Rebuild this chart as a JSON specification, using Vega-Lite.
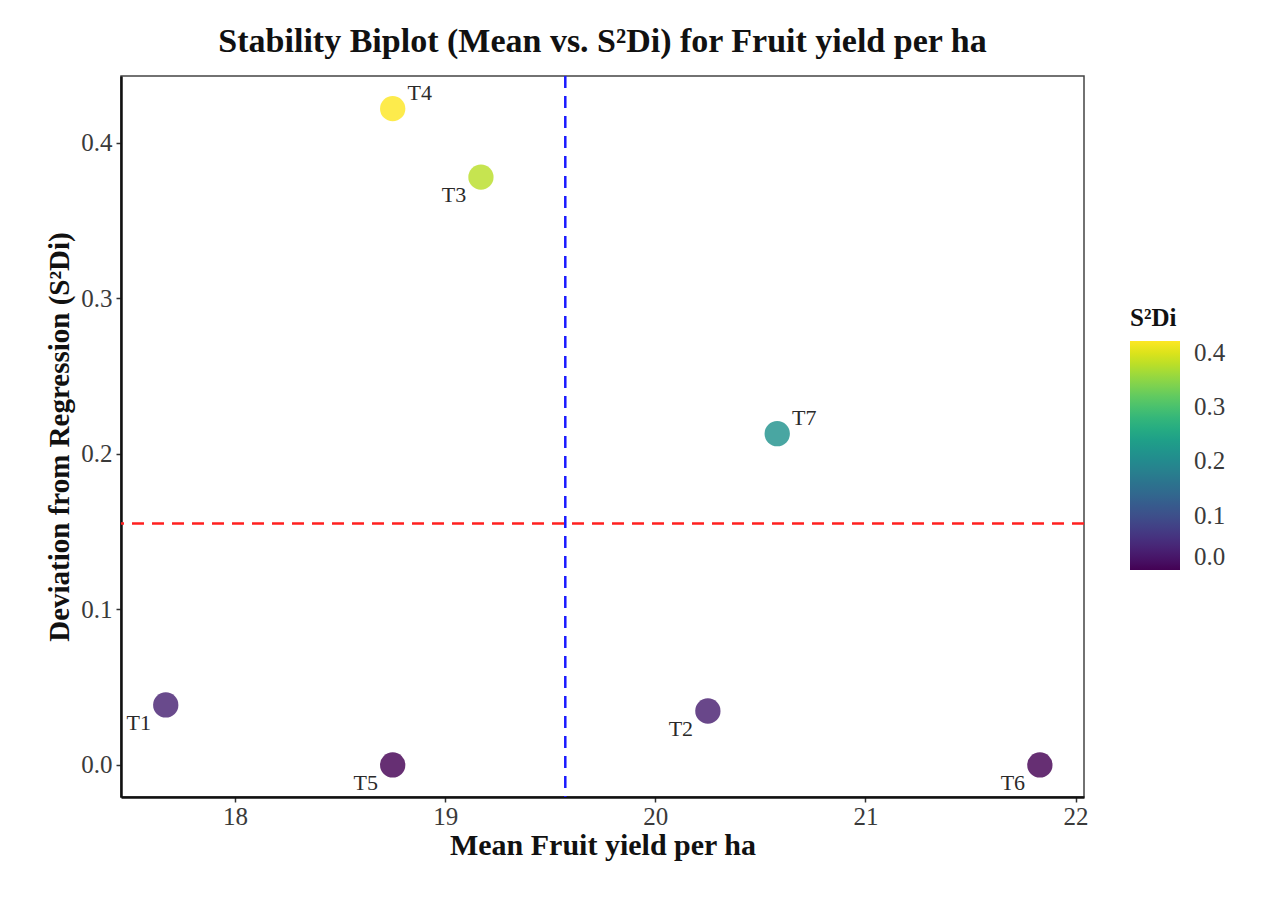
{
  "$schema": "https://vega.github.io/schema/vega-lite/v6.json",
  "autosize": {"type": "none"},
  "width": 963,
  "height": 721,
  "padding": {"left": 121, "top": 76, "right": 203, "bottom": 100},
  "background": "white",
  "title": {
    "text": "Stability Biplot (Mean vs. S²Di) for Fruit yield per ha",
    "font": "Liberation Serif",
    "fontSize": 34,
    "fontWeight": "bold",
    "color": "#111111",
    "anchor": "middle",
    "offset": 16
  },
  "config": {
    "view": {"stroke": "#444444", "strokeWidth": 1.5},
    "font": "Liberation Serif"
  },
  "data": {
    "values": [
      {"genotype": "T1", "mean": 17.67, "s2di": 0.0386, "side": "lowerleft"},
      {"genotype": "T2", "mean": 20.25, "s2di": 0.0347, "side": "lowerleft"},
      {"genotype": "T3", "mean": 19.17, "s2di": 0.378, "side": "lowerleft"},
      {"genotype": "T4", "mean": 18.75, "s2di": 0.422, "side": "upperright"},
      {"genotype": "T5", "mean": 18.75, "s2di": 0.0, "side": "lowerleft"},
      {"genotype": "T6", "mean": 21.83, "s2di": 0.0, "side": "lowerleft"},
      {"genotype": "T7", "mean": 20.58, "s2di": 0.213, "side": "upperright"}
    ]
  },
  "encoding": {
    "x": {
      "field": "mean",
      "type": "quantitative",
      "scale": {"domain": [17.457, 22.04], "nice": false, "zero": false},
      "axis": {
        "title": "Mean Fruit yield per ha",
        "values": [18, 19, 20, 21, 22],
        "format": "d",
        "grid": false,
        "domainColor": "#111111",
        "domainWidth": 2.5,
        "tickColor": "#333333",
        "tickSize": 5,
        "tickWidth": 1.5,
        "labelFont": "Liberation Serif",
        "labelFontSize": 25,
        "labelColor": "#3a3a3a",
        "labelPadding": 2,
        "titleFont": "Liberation Serif",
        "titleFontSize": 30,
        "titleFontWeight": "bold",
        "titleColor": "#111111",
        "titlePadding": 1
      }
    },
    "y": {
      "field": "s2di",
      "type": "quantitative",
      "scale": {"domain": [-0.0206, 0.443], "nice": false, "zero": false},
      "axis": {
        "title": "Deviation from Regression (S²Di)",
        "values": [0, 0.1, 0.2, 0.3, 0.4],
        "format": ".1f",
        "grid": false,
        "domainColor": "#111111",
        "domainWidth": 2.5,
        "tickColor": "#333333",
        "tickSize": 5,
        "tickWidth": 1.5,
        "labelFont": "Liberation Serif",
        "labelFontSize": 25,
        "labelColor": "#3a3a3a",
        "labelPadding": 4,
        "titleFont": "Liberation Serif",
        "titleFontSize": 29,
        "titleFontWeight": "bold",
        "titleColor": "#111111",
        "titlePadding": 6
      }
    }
  },
  "layer": [
    {
      "mark": {"type": "rule", "color": "#1a1aff", "strokeWidth": 2.5, "strokeDash": [12, 8]},
      "encoding": {
        "x": {"aggregate": "mean", "field": "mean", "type": "quantitative"},
        "y": null
      }
    },
    {
      "mark": {"type": "rule", "color": "#ff2020", "strokeWidth": 2.5, "strokeDash": [12, 8]},
      "encoding": {
        "y": {"aggregate": "mean", "field": "s2di", "type": "quantitative"},
        "x": null
      }
    },
    {
      "mark": {"type": "point", "filled": true, "shape": "circle", "size": 640, "opacity": 0.82},
      "encoding": {
        "color": {
          "field": "s2di",
          "type": "quantitative",
          "scale": {"scheme": "viridis", "domain": [0, 0.422]},
          "legend": {
            "title": "S²Di",
            "orient": "none",
            "legendX": 1009,
            "legendY": 230,
            "direction": "vertical",
            "gradientLength": 229,
            "gradientThickness": 50,
            "gradientStrokeWidth": 0,
            "gradientOpacity": 1,
            "values": [0, 0.1, 0.2, 0.3, 0.4],
            "format": ".1f",
            "titleFont": "Liberation Serif",
            "titleFontSize": 25,
            "titleFontWeight": "bold",
            "titleColor": "#111111",
            "titlePadding": 10,
            "labelFont": "Liberation Serif",
            "labelFontSize": 25,
            "labelColor": "#3a3a3a",
            "labelOffset": 14
          }
        }
      }
    },
    {
      "transform": [{"filter": "datum.side === 'upperright'"}],
      "mark": {"type": "text", "font": "Liberation Serif", "fontSize": 22, "color": "#2a2a2a", "dx": 27, "dy": -16},
      "encoding": {"text": {"field": "genotype"}}
    },
    {
      "transform": [{"filter": "datum.side === 'lowerleft'"}],
      "mark": {"type": "text", "font": "Liberation Serif", "fontSize": 22, "color": "#2a2a2a", "dx": -27, "dy": 18},
      "encoding": {"text": {"field": "genotype"}}
    }
  ]
}
